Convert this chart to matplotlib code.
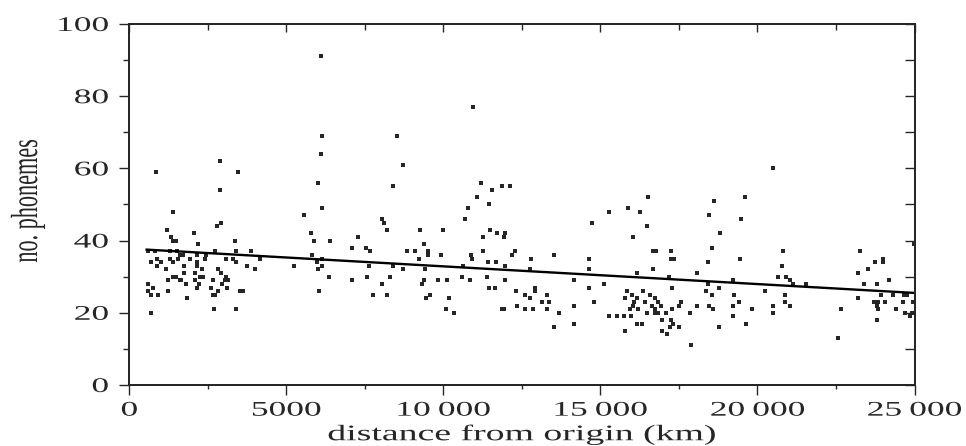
import matplotlib
matplotlib.use("Agg")
import matplotlib.pyplot as plt
from matplotlib.patheffects import AbstractPathEffect
from matplotlib.transforms import Affine2D
from matplotlib.ticker import MultipleLocator

# distance from origin (km) and no. of phonemes
dist_km = [
    6110, 10930, 6130, 8520, 6110,
    2880, 860, 3460, 2880, 1380, 2910, 2800, 1210, 2070, 1340, 1380, 1500, 3360, 2190, 810,
    1290, 1530, 2720, 3390, 3860, 580, 1610, 1710, 2140, 2450, 890, 1290, 1550, 1920, 2400,
    3090, 3300, 680, 1020, 1390, 2170, 3410, 890, 3760, 3990, 1740, 2140, 1160, 2320, 2830,
    1740, 2100, 2910, 1230, 1390, 1500, 1610, 1660, 2240, 2350, 2080, 2670, 3070, 3140, 3040,
    580, 760, 1800, 2220, 2960, 2140, 2610, 3120, 580, 1230, 2830, 3520, 3620, 700, 910,
    2670, 2740, 1820, 2700, 3410, 700,
    6010, 6120, 5550, 8030, 8110, 8190, 5770, 5880, 6380, 7280, 7100, 7530, 7660, 5830, 4150,
    5960, 6150, 5250, 6120, 6010, 7630, 6360, 7100, 7570, 8050, 6030, 7760, 8190,
    8700, 8400, 11210, 11550, 11870, 12120, 11080, 11460, 10770, 10680, 9270, 9990, 11480,
    11710, 11960, 11940, 11250, 9380, 8850, 9090, 9510, 9510, 9230, 9910, 10890, 10920, 11250,
    12270, 12190, 8400, 11430, 11690, 10630, 11960, 8720, 9410, 8290, 10580, 11390, 9390, 9830,
    10100, 10840, 11960, 9330, 11460, 11640, 12310, 9570, 9430, 10180, 10070, 10340, 11850,
    11920, 12330,
    16520, 15270, 15880, 16260, 14720, 16470, 16040, 12780, 13530, 14640, 12750, 14640, 16150,
    14160, 15110, 12910, 14640, 12910, 12590, 13310, 12750, 15830, 16360, 15990, 15780, 16170,
    13140, 13360, 14800, 16080, 16420, 14160, 16040, 12610, 12860, 13310, 15940, 16180, 13690,
    16470, 15270, 15540, 15760, 15960, 14160, 16150, 16330, 13530, 15780,
    20480, 19600, 18610, 18460, 19460, 18800, 18540, 16680, 16760, 17260, 17260, 17350, 18430,
    19440, 16680, 18080, 17180, 19230, 20640, 18410, 17290, 18770, 20240, 18350, 16570, 18540,
    19250, 16730, 16840, 17560, 19410, 16630, 16920, 17510, 18090, 18460, 19230, 20500, 16730,
    17290, 18590, 19830, 16730, 16820, 17080, 17850, 20500, 16950, 17240, 19230, 17320, 19630,
    17210, 17510, 18770, 16950, 17110, 17870,
    20820, 23260, 23740, 23990, 24010, 20790, 23510, 23210, 20900, 21030, 24200, 21140, 21560,
    23400, 23790, 24990, 20870, 23930, 24320, 24670, 24750, 23210, 20870, 21030, 23720, 23850,
    24060, 24640, 24960, 23790, 22660, 23850, 24400, 24700, 24910, 23790, 22550, 24860,
]
phonemes = [
    91, 77, 69, 69, 64,
    62, 59, 59, 54, 48, 45, 44, 43, 42, 41, 40, 40, 40, 39, 37,
    37, 37, 37, 37, 37, 37, 36, 36, 36, 36, 35, 35, 35, 35, 35,
    35, 35, 34, 34, 34, 34, 34, 33, 33, 32, 33, 33, 32, 32, 32,
    31, 31, 31, 29, 30, 30, 29, 29, 30, 30, 29, 29, 30, 29, 29,
    28, 27, 28, 28, 28, 27, 27, 27, 26, 26, 26, 26, 26, 25, 25,
    25, 25, 24, 21, 21, 20,
    56, 49, 47, 46, 45, 43, 42, 40, 40, 41, 38, 38, 37, 36, 35,
    34, 35, 33, 33, 32, 33, 30, 29, 30, 28, 26, 25, 25,
    61, 55, 56, 54, 55, 55, 52, 50, 49, 46, 43, 43, 43,
    42, 42, 41, 41, 39, 37, 37, 37, 36, 35, 36, 36, 35, 37,
    37, 36, 33, 34, 34, 33, 33, 32, 32, 30, 30, 30, 29, 29,
    29, 29, 29, 28, 27, 27, 26, 25, 24, 24, 21, 20, 21,
    21, 22,
    52, 48, 49, 48, 45, 44, 41, 35, 36, 35, 32, 32, 31,
    29, 28, 27, 27, 26, 25, 25, 24, 26, 26, 25, 24, 24,
    23, 23, 23, 23, 23, 22, 22, 21, 21, 21, 21, 21, 20,
    20, 19, 19, 19, 19, 17, 17, 17, 16, 15,
    60, 52, 51, 47, 46, 42, 38, 37, 37, 37, 35, 35, 34,
    35, 32, 31, 30, 29, 30, 28, 27, 27, 26, 26, 25, 25,
    25, 24, 23, 23, 23, 22, 22, 22, 22, 22, 22, 22, 21,
    21, 21, 21, 20, 20, 20, 20, 20, 18, 18, 19, 17, 17,
    16, 16, 16, 15, 14, 11,
    37, 37, 34, 35, 34, 33, 32, 31, 30, 29, 29, 28, 28,
    28, 28, 39, 25, 25, 25, 25, 25, 24, 23, 22, 23, 23,
    23, 23, 23, 22, 21, 21, 21, 20, 20, 18, 13, 19,
]

# fitted line, end points as drawn
trend_km = [550, 25000]
trend_phonemes = [37.5, 25.5]

x_ticks = [0, 5000, 10000, 15000, 20000, 25000]
x_tick_labels = ["0", "5000", "10\u2009000", "15\u2009000", "20\u2009000", "25\u2009000"]
y_ticks = [0, 20, 40, 60, 80, 100]

ink = "#262626"
plt.rcParams["font.family"] = ["Liberation Serif", "DejaVu Serif"]


class Stretch(AbstractPathEffect):
    """The scanned figure is squashed sideways, so draw text wider than the font."""

    def __init__(self, sx=1.0, sy=1.0, ha="center"):
        super().__init__()
        self.sx, self.sy, self.ha = sx, sy, ha

    def draw_path(self, renderer, gc, tpath, affine, rgbFace=None):
        ext = tpath.get_extents()
        frac = {"left": 0.0, "center": 0.5, "right": 1.0}[self.ha]
        x_ref = ext.x0 + frac * ext.width
        widen = Affine2D().translate(-x_ref, 0).scale(self.sx, self.sy).translate(x_ref, 0)
        renderer.draw_path(gc, tpath, widen + affine, rgbFace)


fig = plt.figure(figsize=(9.66, 4.46), dpi=100)
ax = fig.add_axes([0.1339, 0.1368, 0.8128, 0.8094])

ax.plot(dist_km, phonemes, "s", ms=2.4, mew=0, color=ink)
ax.plot(trend_km, trend_phonemes, "-", lw=1.7, color="black")

ax.set_xlim(0, 25000)
ax.set_ylim(0, 100)
ax.set_xticks(x_ticks)
ax.set_xticklabels(x_tick_labels)
ax.set_yticks(y_ticks)
ax.xaxis.set_minor_locator(MultipleLocator(2500))
ax.yaxis.set_minor_locator(MultipleLocator(10))
ax.tick_params(which="major", direction="out", length=7, width=1, color=ink,
               labelsize=15, labelcolor=ink)
ax.tick_params(axis="y", which="major", pad=8)
ax.tick_params(axis="x", which="major", pad=5)
ax.tick_params(which="minor", direction="out", length=4, width=1, color=ink)
ax.tick_params(axis="x", which="minor", length=3)

for lab in ax.get_xticklabels():
    lab.set_path_effects([Stretch(1.7, ha="center")])
for lab in ax.get_yticklabels():
    lab.set_path_effects([Stretch(1.7, ha="right")])

ax.set_xlabel("distance from origin (km)", fontsize=16, color=ink, va="baseline",
              path_effects=[Stretch(1.7, ha="center")])
ax.xaxis.set_label_coords(0.5, -0.153)
ax.set_ylabel("no. phonemes", fontsize=16, color=ink, rotation_mode="anchor",
              va="baseline", ha="center", path_effects=[Stretch(1.0, 1.7)])
ax.yaxis.set_label_coords(-0.1176, 0.51)

# ticks on the right and top point inwards, on a second pair of axes
ax_r = ax.twinx()
ax_r.set_ylim(0, 100)
ax_r.yaxis.set_major_locator(MultipleLocator(10))
ax_r.tick_params(axis="y", direction="in", length=7, width=1, color=ink, labelright=False)

ax_t = ax.twiny()
ax_t.set_xlim(0, 25000)
ax_t.xaxis.set_major_locator(MultipleLocator(5000))
ax_t.xaxis.set_minor_locator(MultipleLocator(2500))
ax_t.tick_params(axis="x", which="major", direction="in", length=6, width=1, color=ink,
                 labeltop=False)
ax_t.tick_params(axis="x", which="minor", direction="in", length=4, width=1, color=ink)

for a in (ax, ax_r, ax_t):
    for sp in a.spines.values():
        sp.set_linewidth(1.2)
        sp.set_color(ink)

fig.savefig("out.png", dpi=100, facecolor="white")
